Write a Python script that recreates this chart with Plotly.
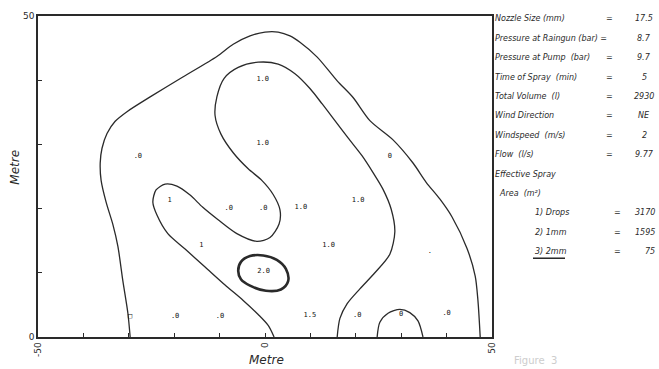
import plotly.graph_objects as go

# ---------------- data ----------------
# outer contour (spray drops boundary)
outer_x = [-29.7, -30.2, -31.3, -32.4, -33.5, -35.0, -36.1, -36.3, -35.9, -34.8, -33.0, -30.4,
           -25.3, -18.1, -10.6, -7.0, -3.3, 0.0, 2.9, 5.5, 7.7, 11.5, 15.9, 19.4, 23.1, 28.2,
           32.6, 35.5, 38.5, 41.2, 44.5, 46.3, 46.9, 47.4]
outer_y = [0.0, 3.7, 8.7, 14.1, 17.5, 21.0, 24.4, 27.1, 29.4, 31.7, 33.6, 35.1,
           37.4, 40.5, 43.7, 45.6, 46.9, 47.5, 47.5, 46.9, 45.9, 43.6, 39.9, 37.3, 33.7, 30.7,
           27.1, 24.1, 21.5, 18.7, 13.8, 9.5, 5.7, 0.0]

# 1 mm contour
inner_x = [2.0, 0.7, -1.5, -4.8, -8.8, -13.2, -17.6, -21.4, -23.8, -24.7, -24.0, -22.0, -19.4,
           -16.5, -13.7, -10.4, -6.2, -1.8, 1.1, 3.1, 3.3, 1.8, -0.7, -3.7, -7.0, -9.7, -11.0,
           -10.6, -9.0, -5.9, -1.5, 2.9, 6.6, 9.9, 12.6, 15.4, 18.3, 21.4, 23.8, 26.0, 27.8,
           28.6, 27.5, 24.2, 20.9, 18.1, 16.5, 15.9]
inner_y = [0.0, 1.8, 3.5, 5.7, 8.1, 10.9, 13.7, 16.1, 19.0, 21.0, 22.9, 23.8, 23.5,
           22.1, 20.2, 18.3, 16.1, 14.9, 15.5, 17.6, 19.8, 22.2, 24.4, 26.2, 28.7, 31.6, 34.5,
           37.4, 40.3, 42.0, 42.8, 42.5, 41.0, 38.7, 36.3, 33.7, 31.0, 28.2, 25.6, 23.0, 19.9,
           16.4, 12.9, 10.0, 7.5, 5.2, 2.9, 0.0]

# 2 mm contour (closed)
core_x = [-5.9, -5.3, -3.3, -0.4, 2.6, 4.6, 5.1, 3.5, 0.2, -3.3, -5.3, -5.9]
core_y = [10.3, 11.7, 12.6, 12.7, 12.0, 10.6, 8.7, 7.4, 7.2, 8.0, 9.0, 10.3]

# small arc at the bottom right
arc_x = [24.7, 25.3, 27.1, 29.7, 31.9, 33.7, 34.8]
arc_y = [0.0, 2.3, 3.7, 4.3, 3.8, 2.5, 0.0]

# point readings
label_x = [-28.0, -0.5, -0.5, 27.5, -21.0, -8.0, -0.4, 7.9, 20.5, -14.0, 14.0, -0.3,
           -29.7, -19.8, -9.9, 9.9, 20.3, 30.0, 40.0, 36.3]
label_y = [28.2, 40.2, 30.2, 28.2, 21.3, 20.1, 20.1, 20.2, 21.3, 14.3, 14.3, 10.3,
           3.2, 3.2, 3.2, 3.4, 3.4, 3.5, 3.7, 13.3]
label_text = [".0", "1.0", "1.0", "0", "1", ".0", ".0", "1.0", "1.0", "1", "1.0", "2.0",
              "□", ".0", ".0", "1.5", ".0", "0", ".0", "."]

# axis ticks
tick_vals_x = [-50, -40, -30, -20, -10, 0, 10, 20, 30, 40, 50]
tick_text_x = ["-50", "", "", "", "", "0", "", "", "", "", "50"]
tick_vals_y = [0, 10, 20, 30, 40, 50]
tick_text_y = ["0", "", "", "", "", "50"]

# information panel
param_names = ["Nozzle Size (mm)", "Pressure at Raingun (bar) =", "Pressure at Pump  (bar)",
               "Time of Spray  (min)", "Total Volume  (l)", "Wind Direction",
               "Windspeed  (m/s)", "Flow  (l/s)", "Effective Spray", "Area  (m²)"]
param_values = ["17.5", "8.7", "9.7", "5", "2930", "NE", "2", "9.77", "", ""]
area_names = ["1) Drops", "2) 1mm", "3) 2mm"]
area_values = ["3170", "1595", "75"]

# ---------------- figure ----------------
W, H = 659, 369
L, R, T, B = 38, 167, 11, 32
PW, PH = W - L - R, H - T - B
INK = "#2a2a2a"
FONT = "DejaVu Sans"


def px(xp):
    return (xp - L) / PW


def py(yp):
    return (H - B - yp) / PH


def note(xp, yp, text, xanchor="center", **kw):
    d = dict(x=px(xp), y=py(yp), xref="paper", yref="paper", text=text, showarrow=False,
             xanchor=xanchor, yanchor="middle")
    d.update(kw)
    return d


fig = go.Figure()
line_style = dict(color=INK, width=1.3, shape="spline", smoothing=0.8)
fig.add_trace(go.Scatter(x=outer_x, y=outer_y, mode="lines", line=line_style, hoverinfo="skip"))
fig.add_trace(go.Scatter(x=inner_x, y=inner_y, mode="lines", line=line_style, hoverinfo="skip"))
fig.add_trace(go.Scatter(x=arc_x, y=arc_y, mode="lines", line=line_style, hoverinfo="skip"))
fig.add_trace(go.Scatter(x=core_x, y=core_y, mode="lines",
                         line=dict(color=INK, width=2.6, shape="spline", smoothing=1.0),
                         hoverinfo="skip"))
fig.add_trace(go.Scatter(x=label_x, y=label_y, mode="text", text=label_text,
                         textfont=dict(family="DejaVu Sans Mono", size=7, color="#111"),
                         hoverinfo="skip"))

fig.update_xaxes(range=[-50, 50], showgrid=False, zeroline=False, showline=True,
                 linecolor=INK, linewidth=1.5, mirror=True, ticks="inside", ticklen=4,
                 tickcolor=INK, tickwidth=1, tickvals=tick_vals_x, ticktext=tick_text_x,
                 tickangle=-90, tickfont=dict(family=FONT, size=9, color=INK))
fig.update_yaxes(range=[0, 50], showgrid=False, zeroline=False, showline=True,
                 linecolor=INK, linewidth=1.5, mirror=True, ticks="inside", ticklen=4,
                 tickcolor=INK, tickwidth=1, tickvals=tick_vals_y, ticktext=tick_text_y,
                 tickfont=dict(family=FONT, size=9, color=INK))

ann = []
# axis titles
ann.append(note(266, 360, "<i>Metre</i>", font=dict(family=FONT, size=12, color=INK)))
ann.append(note(15, 165, "<i>Metre</i>", textangle=-90,
                font=dict(family=FONT, size=12, color=INK)))

pfont = dict(family=FONT, size=8, color=INK)
row0, step = 14, 19.7
for i, (name, val) in enumerate(zip(param_names, param_values)):
    yp = row0 + i * step
    ann.append(note(493 if i < 9 else 497, yp, "<i>" + name + "</i>", xanchor="left",
                    font=pfont))
    if val:
        if "=" not in name:
            ann.append(note(609, yp, "=", font=pfont))
        ann.append(note(644, yp, "<i>" + val + "</i>", font=pfont))
for j, (name, val) in enumerate(zip(area_names, area_values)):
    yp = row0 + (10 + j) * step
    ann.append(note(533, yp, "<i>" + name + "</i>", xanchor="left", font=pfont))
    ann.append(note(617, yp, "=", font=pfont))
    ann.append(note(657, yp, "<i>" + val + "</i>", xanchor="right", font=pfont))

# faint caption at the very bottom
ann.append(note(512, 361, "Figure  3", xanchor="left",
                font=dict(family=FONT, size=10, color="#cdcdcd")))

fig.update_layout(
    width=W, height=H, margin=dict(l=L, r=R, t=T, b=B),
    paper_bgcolor="white", plot_bgcolor="white", showlegend=False,
    annotations=ann,
    shapes=[dict(type="line", xref="paper", yref="paper", x0=px(533), x1=px(565),
                 y0=py(257), y1=py(257), line=dict(color=INK, width=1.5))],
)

fig.write_html("out.html", config={"displayModeBar": False},
               post_script="document.body.style.margin='0px';document.body.style.overflow='hidden';")
